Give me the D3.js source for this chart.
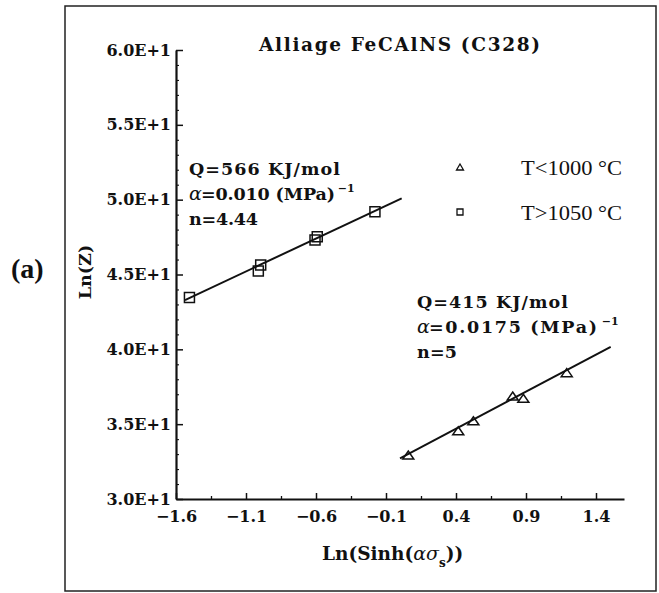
<!DOCTYPE html>
<html>
<head>
<meta charset="utf-8">
<script src="https://cdn.jsdelivr.net/npm/d3@7"></script>
<style>
  html, body { margin: 0; padding: 0; background: #fff; }
  svg { display: block; }
  text { fill: #111; }
</style>
</head>
<body>
<svg id="chart" width="659" height="593"></svg>
<script>
// ---------------- data ----------------
const xTickValues = [-1.6, -1.1, -0.6, -0.1, 0.4, 0.9, 1.4];
const xTickLabels = ["\u22121.6", "\u22121.1", "\u22120.6", "\u22120.1", "0.4", "0.9", "1.4"];
const xMinorValues = [-1.35, -0.85, -0.35, 0.15, 0.65, 1.15];
const yTickValues = [30, 35, 40, 45, 50, 55, 60];
const yTickLabels = ["3.0E+1", "3.5E+1", "4.0E+1", "4.5E+1", "5.0E+1", "5.5E+1", "6.0E+1"];
const yMinorValues = [31,32,33,34,36,37,38,39,41,42,43,44,46,47,48,49,51,52,53,54,56,57,58,59];

// T>1050 °C (squares)
const highX = [-1.504, -1.012, -0.995, -0.607, -0.591, -0.179];
const highY = [43.46, 45.23, 45.63, 47.30, 47.52, 49.19];
// T<1000 °C (triangles)
const lowX = [0.059, 0.416, 0.524, 0.805, 0.881, 1.191];
const lowY = [32.94, 34.56, 35.23, 36.88, 36.73, 38.44];
// fitted lines (endpoints)
const highFitX = [-1.536, 0.012];
const highFitY = [43.29, 50.09];
const lowFitX = [0.0, 1.505];
const lowFitY = [32.72, 40.17];

const titleText = "Alliage FeCAlNS (C328)";
const legendLabels = ["T<1000 \u00B0C", "T>1050 \u00B0C"];
const highNote = ["Q=566 KJ/mol", "=0.010 (MPa)", "n=4.44"];
const lowNote = ["Q=415 KJ/mol", "=0.0175 (MPa)", "n=5"];

// ---------------- drawing ----------------
const svg = d3.select("#chart");
const serif = "'DejaVu Serif', serif";

// outer frame
svg.append("rect")
  .attr("x", 65).attr("y", 6).attr("width", 591).attr("height", 585)
  .attr("fill", "none").attr("stroke", "#222").attr("stroke-width", 1.5);

const x = d3.scaleLinear().domain([-1.6, 1.6]).range([176, 624]);
const y = d3.scaleLinear().domain([30, 60]).range([499, 50]);

// minor ticks
svg.append("g").attr("transform", "translate(0,499)")
  .call(d3.axisBottom(x).tickValues(xMinorValues).tickSize(-3).tickFormat(""))
  .call(g => g.select(".domain").remove())
  .call(g => g.selectAll("line").attr("stroke", "#111").attr("stroke-width", 1.3));
svg.append("g").attr("transform", "translate(176,0)")
  .call(d3.axisLeft(y).tickValues(yMinorValues).tickSize(-3).tickFormat(""))
  .call(g => g.select(".domain").remove())
  .call(g => g.selectAll("line").attr("stroke", "#111").attr("stroke-width", 1.1));

// major axes
const xAxis = svg.append("g").attr("transform", "translate(0,499)")
  .call(d3.axisBottom(x).tickValues(xTickValues).tickSize(-6).tickSizeOuter(0).tickPadding(12)
    .tickFormat((d, i) => xTickLabels[i]));
const yAxis = svg.append("g").attr("transform", "translate(176,0)")
  .call(d3.axisLeft(y).tickValues(yTickValues).tickSize(-7).tickSizeOuter(0).tickPadding(5)
    .tickFormat((d, i) => yTickLabels[i]));

[xAxis, yAxis].forEach(g => {
  g.select(".domain").attr("stroke", "#111").attr("stroke-width", 2.2);
  g.selectAll(".tick line").attr("stroke", "#111").attr("stroke-width", 1.5);
  g.selectAll(".tick text").attr("font-family", serif).attr("font-weight", "bold")
    .attr("font-size", 16).attr("fill", "#111");
});

// fit lines
const line = d3.line().x(d => x(d[0])).y(d => y(d[1]));
svg.append("path").datum(d3.zip(highFitX, highFitY)).attr("d", line)
  .attr("fill", "none").attr("stroke", "#111").attr("stroke-width", 2);
svg.append("path").datum(d3.zip(lowFitX, lowFitY)).attr("d", line)
  .attr("fill", "none").attr("stroke", "#111").attr("stroke-width", 2);

// markers
const sq = d3.symbol().type(d3.symbolSquare).size(100);
svg.append("g").selectAll("path").data(d3.zip(highX, highY)).join("path")
  .attr("d", sq).attr("transform", d => `translate(${x(d[0])},${y(d[1])})`)
  .attr("fill", "none").attr("stroke", "#111").attr("stroke-width", 1.5);

function triPath(w, h) {
  return `M0,${-h / 2}L${w / 2},${h / 2}L${-w / 2},${h / 2}Z`;
}
svg.append("g").selectAll("path").data(d3.zip(lowX, lowY)).join("path")
  .attr("d", triPath(11, 8)).attr("transform", d => `translate(${x(d[0])},${y(d[1])})`)
  .attr("fill", "none").attr("stroke", "#111").attr("stroke-width", 1.5);

// title
svg.append("text").attr("x", 259).attr("y", 51)
  .attr("font-family", serif).attr("font-weight", "bold").attr("font-size", 18.5)
  .attr("textLength", 281).attr("lengthAdjust", "spacing")
  .text(titleText);

// legend
const legend = svg.append("g");
legend.append("path").attr("d", triPath(7, 6)).attr("transform", "translate(460,167)")
  .attr("fill", "none").attr("stroke", "#111").attr("stroke-width", 1.3);
legend.append("path").attr("d", d3.symbol().type(d3.symbolSquare).size(36)).attr("transform", "translate(460,212)")
  .attr("fill", "none").attr("stroke", "#111").attr("stroke-width", 1.3);
legendLabels.forEach((t, i) => {
  legend.append("text").attr("x", 521).attr("y", 175 + i * 45)
    .attr("font-family", "'Liberation Serif', 'Times New Roman', serif")
    .attr("font-size", 22).attr("textLength", 101).attr("lengthAdjust", "spacingAndGlyphs")
    .text(t);
});

// annotations
function note(lines, x0, y0, w0, w1, w2) {
  const g = svg.append("g").attr("font-family", serif).attr("font-weight", "bold").attr("font-size", 17.5);
  g.append("text").attr("x", x0).attr("y", y0).attr("textLength", w0).attr("lengthAdjust", "spacing").text(lines[0]);
  const t = g.append("text").attr("x", x0).attr("y", y0 + 25);
  t.append("tspan").attr("font-style", "italic").attr("font-weight", "normal").attr("font-size", 19).text("\u03B1");
  t.append("tspan").attr("x", x0 + 12).attr("textLength", w1).attr("lengthAdjust", "spacing").text(lines[1]);
  t.append("tspan").attr("dy", -8).attr("font-size", 11).attr("dx", 3).text("\u22121");
  g.append("text").attr("x", x0).attr("y", y0 + 50).attr("textLength", w2).attr("lengthAdjust", "spacing").text(lines[2]);
  return t;
}
note(highNote, 189, 175, 151, 134, 69);
note(lowNote, 417, 308, 151, 168, 40);

// axis titles
const xt = svg.append("text").attr("x", 322).attr("y", 560)
  .attr("font-family", serif).attr("font-weight", "bold").attr("font-size", 18.5);
xt.append("tspan").text("Ln(Sinh(");
xt.append("tspan").attr("font-style", "italic").attr("font-weight", "normal").attr("font-size", 19).text("\u03B1\u03C3");
xt.append("tspan").attr("dy", 7).attr("font-size", 12).text("s");
xt.append("tspan").attr("dy", -7).text("))");

svg.append("text").attr("transform", "translate(91,272) rotate(-90)")
  .attr("text-anchor", "middle")
  .attr("font-family", serif).attr("font-weight", "bold").attr("font-size", 17.5)
  .text("Ln(Z)");

svg.append("text").attr("x", 11).attr("y", 278)
  .attr("font-family", "'Liberation Serif', serif").attr("font-weight", "bold").attr("font-size", 28)
  .text("(a)");
</script>
</body>
</html>
